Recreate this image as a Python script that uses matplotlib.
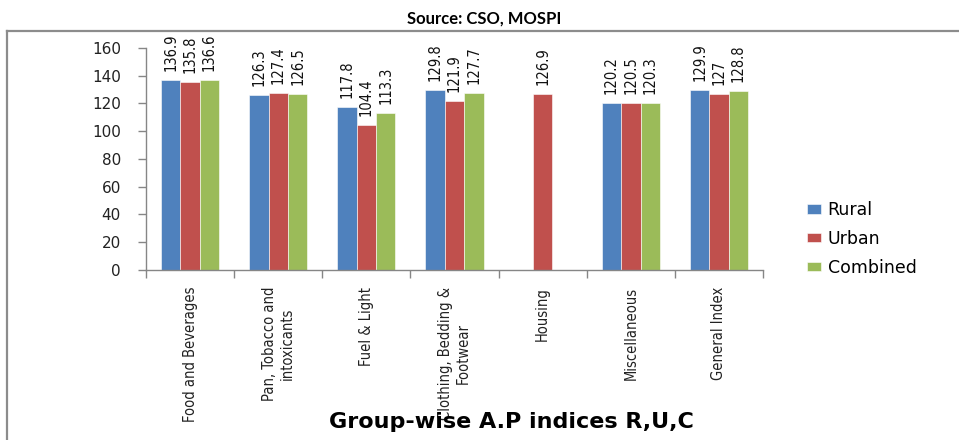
import numpy as np
import matplotlib
matplotlib.use("Agg")
import matplotlib.pyplot as plt
from matplotlib.lines import Line2D
from matplotlib import font_manager

# Group-wise A.P indices (Rural, Urban, Combined)
groups = ["Food and Beverages", "Pan, Tobacco and\nintoxicants", "Fuel & Light",
          "Clothing, Bedding &\nFootwear", "Housing", "Miscellaneous", "General Index"]
rural = [136.9, 126.3, 117.8, 129.8, np.nan, 120.2, 129.9]
urban = [135.8, 127.4, 104.4, 121.9, 126.9, 120.5, 127.0]
combined = [136.6, 126.5, 113.3, 127.7, np.nan, 120.3, 128.8]
series_names = ["Rural", "Urban", "Combined"]
colors = ["#4F81BD", "#C0504D", "#9BBB59"]
y_ticks = [0, 20, 40, 60, 80, 100, 120, 140, 160]

# condensed face for the crowded labels
narrow_fp = font_manager.FontProperties(family="DejaVu Sans", stretch="condensed")
axis_grey = "#868686"

fig = plt.figure(figsize=(9.59, 4.40), dpi=100)
ax = fig.add_axes([0.1522, 0.3864, 0.6435, 0.5045])

x = np.arange(len(groups))
width = 0.22
for i, (vals, name, col) in enumerate(zip([rural, urban, combined], series_names, colors)):
    pos = x + (i - 1) * width
    ax.bar(pos, vals, width, color=col, label=name, edgecolor="white", linewidth=0.4)
    for px, v in zip(pos, vals):
        if np.isnan(v):
            continue
        ax.annotate(f"{v:g}", (px, v), xytext=(0, 6.5), textcoords="offset points",
                    rotation=90, ha="center", va="bottom", fontsize=10.5,
                    fontproperties=narrow_fp.copy(), color="#111111")

ax.set_xlim(-0.5, len(groups) - 0.5)
ax.set_ylim(0, 160)
ax.set_yticks(y_ticks)
ax.tick_params(axis="y", direction="out", length=6, width=1, color=axis_grey,
               pad=12, labelsize=11, labelcolor="#222222")

ax.set_xticks(x)
ax.set_xticklabels(groups, rotation=90, va="top", ha="center", multialignment="center",
                   fontproperties=narrow_fp, fontsize=10.5, color="#222222")
ax.tick_params(axis="x", which="major", length=0, pad=12)
ax.set_xticks(np.arange(len(groups) + 1) - 0.5, minor=True)
ax.tick_params(axis="x", which="minor", direction="out", length=6, width=1, color=axis_grey)

for side in ["top", "right"]:
    ax.spines[side].set_visible(False)
for side in ["left", "bottom"]:
    ax.spines[side].set_color(axis_grey)
    ax.spines[side].set_linewidth(1)

ax.legend(loc="center left", bbox_to_anchor=(0.834, 0.457), bbox_transform=fig.transFigure,
          frameon=False, fontsize=12.5, handlelength=0.8, handleheight=0.45,
          handletextpad=0.4, labelspacing=0.62, borderaxespad=0)

fig.text(0.533, 0.041, "Group-wise A.P indices R,U,C", ha="center", va="center",
         fontsize=16, fontweight="bold", family="DejaVu Sans")
fig.text(0.505, 0.958, "Source: CSO, MOSPI", ha="center", va="center",
         fontsize=12, fontweight="bold", family=["Lato", "DejaVu Sans"])

# outer frame of the pasted chart (only top and left edges are visible)
fig.add_artist(Line2D([0.0073, 0.0073], [0.0, 0.9295], transform=fig.transFigure,
                      color="#8c8c8c", linewidth=1.6))
fig.add_artist(Line2D([0.0073, 1.0], [0.9295, 0.9295], transform=fig.transFigure,
                      color="#8c8c8c", linewidth=1.6))

fig.savefig("out.png", dpi=100)
